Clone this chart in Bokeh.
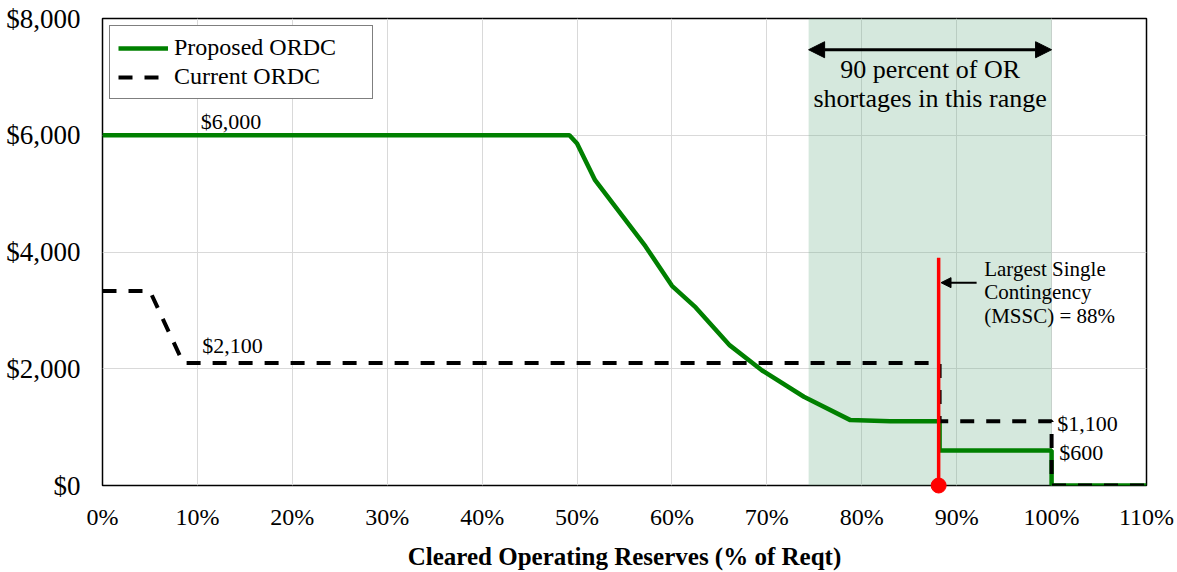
from bokeh.plotting import figure
from bokeh.models import (FixedTicker, NumeralTickFormatter,
                          PrintfTickFormatter, Arrow, NormalHead, Label, Legend, LegendItem)
from bokeh.embed import file_html
from bokeh.resources import INLINE

# ---- data ----
proposed_x = [0, 49.2, 50, 51.9, 57.2, 60, 62.5, 66.1, 69.5, 73.9, 78.8, 83, 88.2, 88.2, 100, 100, 110]
proposed_y = [6000, 6000, 5860, 5230, 4100, 3420, 3050, 2400, 1970, 1520, 1120, 1100, 1100, 600, 600, 0, 0]
current_x = [0, 5, 8.5, 88.2, 88.2, 100, 100, 110]
current_y = [3330, 3330, 2100, 2100, 1100, 1100, 0, 0]
shade_range = [74.4, 100]
mssc_x = 88.1
mssc_top = 3900
x_ticks = [0, 10, 20, 30, 40, 50, 60, 70, 80, 90, 100, 110]
y_ticks = [0, 2000, 4000, 6000, 8000]
price_labels = ["$6,000", "$2,100", "$1,100", "$600"]
price_label_x = [10.35, 10.5, 100.6, 100.8]
price_label_y = [6240, 2390, 1067, 569]

FONT = "Liberation Serif"

p = figure(width=1177, height=572, x_range=(0, 110), y_range=(0, 8000),
           output_backend="svg", toolbar_location=None,
           min_border_left=102, min_border_right=31, min_border_top=18, min_border_bottom=83)
p.background_fill_color = "white"
p.border_fill_color = "white"
p.outline_line_color = "black"
p.outline_line_width = 1.5

# grid
p.xgrid.ticker = FixedTicker(ticks=x_ticks)
p.ygrid.ticker = FixedTicker(ticks=y_ticks)
p.xgrid.grid_line_color = "#d9d9d9"
p.ygrid.grid_line_color = "#d9d9d9"
p.xgrid.grid_line_width = 1
p.ygrid.grid_line_width = 1

# axes
p.xaxis.ticker = FixedTicker(ticks=x_ticks)
p.yaxis.ticker = FixedTicker(ticks=y_ticks)
p.xaxis.formatter = PrintfTickFormatter(format="%d%%")
p.yaxis.formatter = NumeralTickFormatter(format="$0,0")
for ax in (p.xaxis, p.yaxis):
    ax.axis_line_color = None
    ax.major_tick_line_color = None
    ax.minor_tick_line_color = None
    ax.major_tick_out = 0
    ax.major_tick_in = 0
    ax.major_label_text_font = FONT
    ax.major_label_text_color = "black"
p.xaxis.major_label_text_font_size = "24px"
p.yaxis.major_label_text_font_size = "27px"
p.xaxis.major_label_standoff = 18
p.yaxis.major_label_standoff = 22
p.xaxis.axis_label = "Cleared Operating Reserves (% of Reqt)"
p.xaxis.axis_label_text_font = FONT
p.xaxis.axis_label_text_font_size = "25px"
p.xaxis.axis_label_text_font_style = "bold"
p.xaxis.axis_label_text_color = "black"
p.xaxis.axis_label_standoff = 10

# shaded band
p.quad(left=[shade_range[0]], right=[shade_range[1]], bottom=[0], top=[8000],
       fill_color="#73b28e", fill_alpha=0.3, line_color=None)

# curves
g = p.line(proposed_x, proposed_y, line_color="#008000", line_width=4.5)
b = p.line(current_x, current_y, line_color="black", line_width=4, line_dash="14 12")

# MSSC red line and dot
p.segment(x0=[mssc_x], y0=[0], x1=[mssc_x], y1=[mssc_top], line_color="red", line_width=3.5)
dot = p.scatter(x=[mssc_x], y=[0], size=15, color="red", level="overlay")
if "clip" in dot.properties():
    dot.clip = False

# arrows
p.add_layout(Arrow(x_start=shade_range[0], y_start=7465, x_end=shade_range[1], y_end=7465,
                   line_color="black", line_width=3,
                   start=NormalHead(size=16, fill_color="black", line_color="black"),
                   end=NormalHead(size=16, fill_color="black", line_color="black")))
p.add_layout(Arrow(x_start=92.1, y_start=3475, x_end=mssc_x + 0.25, y_end=3475,
                   line_color="black", line_width=2,
                   end=NormalHead(size=10, fill_color="black", line_color="black")))

# texts
for t, x, y in zip(price_labels, price_label_x, price_label_y):
    p.add_layout(Label(x=x, y=y, text=t, text_font=FONT, text_font_size="22px",
                       text_baseline="middle", text_align="left", text_color="black"))

for t, y in zip(["90 percent of OR", "shortages in this range"], [7125, 6626]):
    p.add_layout(Label(x=87.2, y=y, text=t, text_font=FONT, text_font_size="26px",
                       text_baseline="middle", text_align="center", text_color="black"))

for t, y in zip(["Largest Single", "Contingency", "(MSSC) = 88%"], [3711, 3315, 2908]):
    p.add_layout(Label(x=92.9, y=y, text=t, text_font=FONT, text_font_size="21px",
                       text_baseline="middle", text_align="left", text_color="black"))

legend = Legend(items=[LegendItem(label="Proposed ORDC", renderers=[g]),
                       LegendItem(label="Current ORDC", renderers=[b])],
                location="top_left", margin=7, padding=8, spacing=2,
                glyph_width=50, glyph_height=24, label_height=24, label_width=190,
                label_standoff=6,
                label_text_font=FONT, label_text_font_size="24px", label_text_color="black",
                border_line_color="black", border_line_width=1.5,
                background_fill_color="white", background_fill_alpha=1)
p.add_layout(legend)

open("out.html", "w").write(file_html(p, INLINE))
